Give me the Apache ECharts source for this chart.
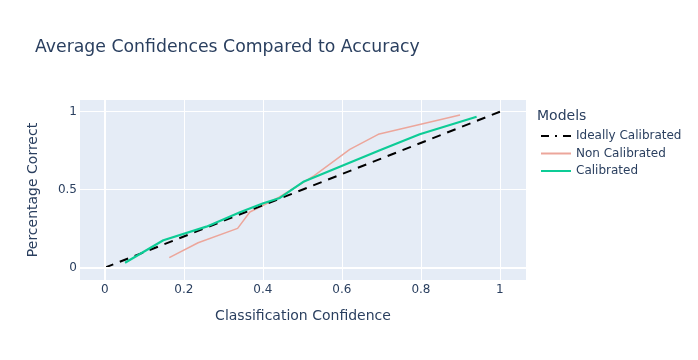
<!DOCTYPE html>
<html>
<head>
<meta charset="utf-8">
<script src="https://cdn.jsdelivr.net/npm/echarts@6/dist/echarts.min.js"></script>
<style>html,body{margin:0;padding:0;background:#fff}#c{width:698px;height:360px}</style>
</head>
<body>
<div id="c"></div>
<script>
var xTicks = [0, 0.2, 0.4, 0.6, 0.8, 1];
var yTicks = [0, 0.5, 1];
var idealX = [0, 1];
var idealY = [0, 1];
var nonCalX = [0.163, 0.236, 0.336, 0.367, 0.44, 0.53, 0.62, 0.692, 0.899];
var nonCalY = [0.064, 0.160, 0.252, 0.357, 0.45, 0.59, 0.758, 0.855, 0.979];
var calX = [0.051, 0.148, 0.257, 0.342, 0.401, 0.443, 0.504, 0.696, 0.797, 0.941];
var calY = [0.032, 0.176, 0.263, 0.355, 0.413, 0.447, 0.553, 0.753, 0.855, 0.968];

function pairs(xs, ys) { return xs.map(function (x, i) { return [x, ys[i]]; }); }

var txt = '#2a3f5f';
var font = 'DejaVu Sans';
var chart = echarts.init(document.getElementById('c'));
chart.setOption({
  animation: false,
  textStyle: { fontFamily: font, color: txt },
  title: [
    { text: 'Average Confidences Compared to Accuracy', left: 30, top: 34,
      textStyle: { fontFamily: font, fontSize: 17.3, fontWeight: 'normal', color: txt } },
    { text: 'Models', left: 532, top: 104,
      textStyle: { fontFamily: font, fontSize: 14, fontWeight: 'normal', color: txt } }
  ],
  legend: {
    orient: 'vertical', left: 535, top: 125, itemWidth: 30, itemHeight: 14, itemGap: 5.5,
    itemStyle: { opacity: 0 },
    data: [
      { name: 'Ideally Calibrated', lineStyle: { type: [8, 6, 2, 6, 8], width: 2, color: '#000' } },
      { name: 'Non Calibrated' },
      { name: 'Calibrated' }
    ],
    textStyle: { fontFamily: font, fontSize: 12, color: txt }
  },
  grid: { left: 80, right: 172, top: 100, bottom: 80, show: true, backgroundColor: '#E5ECF6', borderWidth: 0 },
  xAxis: {
    type: 'value', min: -0.063, max: 1.066,
    name: 'Classification Confidence', nameLocation: 'middle', nameGap: 29,
    nameTextStyle: { fontFamily: font, fontSize: 14, color: txt },
    axisLine: { show: false },
    axisTick: { show: false, customValues: xTicks },
    axisLabel: { customValues: xTicks, margin: 4, fontFamily: font, fontSize: 12, color: txt,
      formatter: function (v) { return String(+v.toFixed(2)); } },
    splitLine: { show: true, lineStyle: { color: '#fff', width: 1 } }
  },
  yAxis: {
    type: 'value', min: -0.079, max: 1.075,
    name: 'Percentage Correct', nameLocation: 'middle', nameGap: 40,
    nameTextStyle: { fontFamily: font, fontSize: 14, color: txt },
    axisLine: { show: false },
    axisTick: { show: false, customValues: yTicks },
    axisLabel: { customValues: yTicks, margin: 3, fontFamily: font, fontSize: 12, color: txt,
      formatter: function (v) { return String(+v.toFixed(2)); } },
    splitLine: { show: true, lineStyle: { color: '#fff', width: 1 } }
  },
  series: [
    { name: 'zero', type: 'line', data: [], z: 1, silent: true,
      markLine: { silent: true, symbol: 'none', label: { show: false },
        lineStyle: { color: '#fff', width: 2, type: 'solid' },
        data: [{ xAxis: 0 }, { yAxis: 0 }] } },
    { name: 'Ideally Calibrated', type: 'line', z: 3, symbol: 'none',
      data: pairs(idealX, idealY),
      lineStyle: { color: '#000', width: 2, type: [9, 7] }, itemStyle: { color: '#000' } },
    { name: 'Non Calibrated', type: 'line', z: 2, symbol: 'none',
      data: pairs(nonCalX, nonCalY),
      lineStyle: { color: '#eca69b', width: 1.5 }, itemStyle: { color: '#eca69b' } },
    { name: 'Calibrated', type: 'line', z: 4, symbol: 'none',
      data: pairs(calX, calY),
      lineStyle: { color: '#0dcc96', width: 2.2 }, itemStyle: { color: '#0dcc96' } }
  ]
});
</script>
</body>
</html>
